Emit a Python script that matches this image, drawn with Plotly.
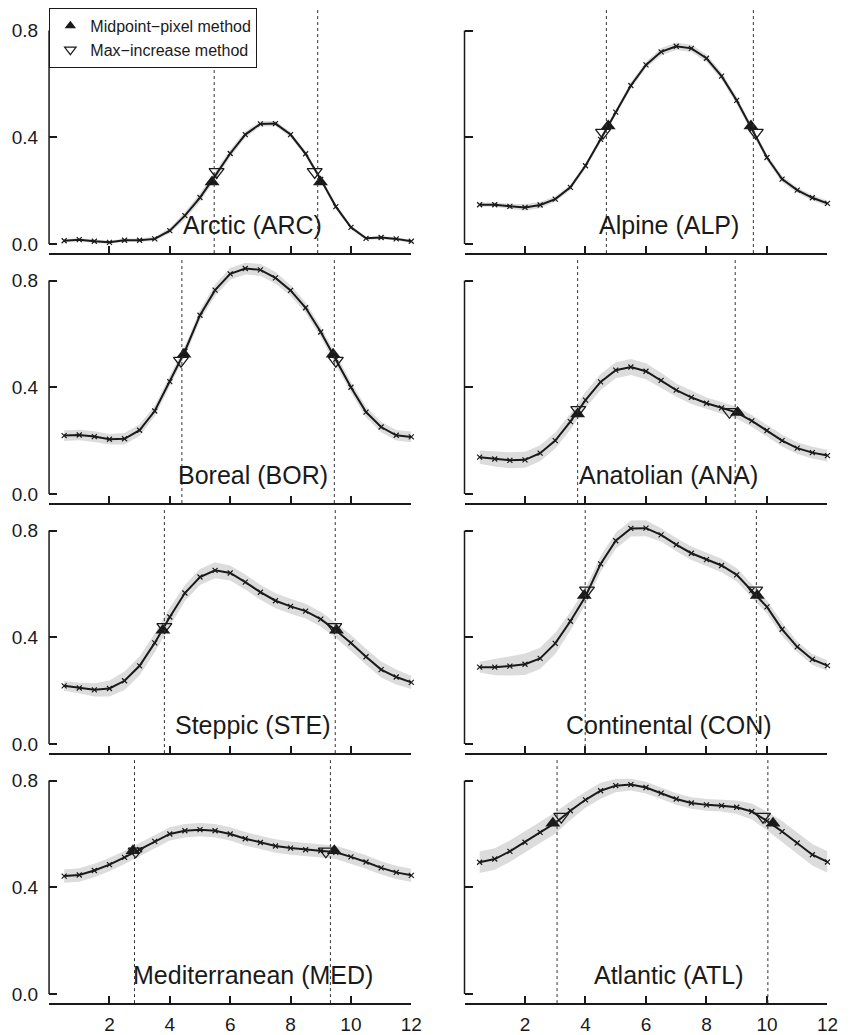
import plotly.graph_objects as go

# ---------------- data ----------------
months = [0.5, 1.0, 1.5, 2.0, 2.5, 3.0, 3.5, 4.0, 4.5, 5.0, 5.5, 6.0,
          6.5, 7.0, 7.5, 8.0, 8.5, 9.0, 9.5, 10.0, 10.5, 11.0, 11.5, 12.0]

panel_names = ["Arctic (ARC)", "Alpine (ALP)", "Boreal (BOR)", "Anatolian (ANA)",
               "Steppic (STE)", "Continental (CON)", "Mediterranean (MED)", "Atlantic (ATL)"]

arc = [0.012, 0.016, 0.010, 0.006, 0.014, 0.014, 0.019, 0.050, 0.106, 0.174, 0.255, 0.339,
       0.410, 0.450, 0.451, 0.410, 0.338, 0.242, 0.140, 0.062, 0.021, 0.024, 0.019, 0.010]
alp = [0.147, 0.147, 0.141, 0.137, 0.146, 0.168, 0.212, 0.293, 0.392, 0.494, 0.594, 0.671,
       0.720, 0.741, 0.733, 0.696, 0.629, 0.538, 0.430, 0.324, 0.243, 0.202, 0.173, 0.152]
bor = [0.219, 0.221, 0.215, 0.205, 0.207, 0.239, 0.311, 0.421, 0.535, 0.670, 0.764, 0.825,
       0.845, 0.840, 0.810, 0.763, 0.698, 0.607, 0.505, 0.400, 0.307, 0.251, 0.220, 0.214]
ana = [0.138, 0.131, 0.126, 0.128, 0.153, 0.200, 0.271, 0.352, 0.420, 0.464, 0.476, 0.460,
       0.426, 0.389, 0.362, 0.340, 0.323, 0.305, 0.274, 0.238, 0.200, 0.172, 0.155, 0.144]
ste = [0.218, 0.210, 0.203, 0.208, 0.237, 0.293, 0.379, 0.476, 0.566, 0.626, 0.651, 0.641,
       0.607, 0.569, 0.537, 0.516, 0.498, 0.468, 0.426, 0.379, 0.327, 0.279, 0.251, 0.231]
con = [0.288, 0.288, 0.292, 0.299, 0.321, 0.377, 0.460, 0.553, 0.675, 0.762, 0.808, 0.809,
       0.784, 0.747, 0.715, 0.691, 0.669, 0.634, 0.576, 0.514, 0.430, 0.364, 0.317, 0.294]
med = [0.442, 0.446, 0.463, 0.485, 0.512, 0.541, 0.572, 0.600, 0.612, 0.616, 0.612, 0.600,
       0.582, 0.568, 0.555, 0.547, 0.541, 0.537, 0.531, 0.514, 0.495, 0.473, 0.456, 0.445]
atl = [0.494, 0.506, 0.535, 0.569, 0.606, 0.641, 0.687, 0.728, 0.762, 0.781, 0.785, 0.774,
       0.753, 0.731, 0.716, 0.709, 0.706, 0.700, 0.684, 0.649, 0.609, 0.566, 0.522, 0.495]

# half-width of the grey uncertainty band
arc_sd = [0.006, 0.006, 0.006, 0.006, 0.006, 0.006, 0.008, 0.010, 0.014, 0.016, 0.016, 0.014,
          0.012, 0.010, 0.010, 0.010, 0.010, 0.010, 0.010, 0.008, 0.006, 0.006, 0.006, 0.006]
alp_sd = [0.008, 0.008, 0.010, 0.012, 0.012, 0.010, 0.010, 0.010, 0.010, 0.010, 0.012, 0.012,
          0.014, 0.014, 0.014, 0.014, 0.014, 0.014, 0.012, 0.012, 0.012, 0.010, 0.010, 0.010]
bor_sd = [0.020, 0.020, 0.020, 0.020, 0.022, 0.022, 0.020, 0.020, 0.020, 0.020, 0.022, 0.022,
          0.022, 0.022, 0.022, 0.020, 0.020, 0.020, 0.020, 0.020, 0.020, 0.020, 0.020, 0.020]
ana_sd = [0.025, 0.028, 0.030, 0.030, 0.030, 0.030, 0.030, 0.030, 0.030, 0.030, 0.030, 0.030,
          0.028, 0.025, 0.025, 0.022, 0.022, 0.022, 0.022, 0.022, 0.022, 0.022, 0.022, 0.022]
ste_sd = [0.018, 0.020, 0.025, 0.030, 0.035, 0.035, 0.035, 0.035, 0.030, 0.030, 0.030, 0.028,
          0.028, 0.028, 0.028, 0.028, 0.028, 0.028, 0.028, 0.030, 0.030, 0.030, 0.028, 0.025]
con_sd = [0.020, 0.030, 0.035, 0.040, 0.040, 0.040, 0.035, 0.030, 0.030, 0.030, 0.030, 0.030,
          0.025, 0.025, 0.025, 0.025, 0.025, 0.025, 0.025, 0.025, 0.025, 0.020, 0.020, 0.020]
med_sd = [0.025, 0.025, 0.025, 0.025, 0.025, 0.025, 0.025, 0.025, 0.025, 0.025, 0.025, 0.025,
          0.025, 0.025, 0.025, 0.025, 0.025, 0.025, 0.025, 0.025, 0.025, 0.025, 0.025, 0.025]
atl_sd = [0.040, 0.040, 0.040, 0.040, 0.040, 0.040, 0.035, 0.030, 0.030, 0.025, 0.022, 0.022,
          0.022, 0.022, 0.022, 0.022, 0.022, 0.025, 0.030, 0.035, 0.040, 0.040, 0.040, 0.040]

# Midpoint-pixel (filled triangle) and max-increase (open triangle) estimates, dotted lines
arc_mid_x, arc_mid_y = [5.40, 8.99], [0.232, 0.232]
arc_max_x, arc_max_y = [5.55, 8.80], [0.270, 0.270]
arc_dot = [5.47, 8.90]
alp_mid_x, alp_mid_y = [4.75, 9.47], [0.442, 0.442]
alp_max_x, alp_max_y = [4.58, 9.63], [0.417, 0.417]
alp_dot = [4.69, 9.55]
bor_mid_x, bor_mid_y = [4.47, 9.41], [0.524, 0.524]
bor_max_x, bor_max_y = [4.37, 9.50], [0.500, 0.500]
bor_dot = [4.40, 9.45]
ana_mid_x, ana_mid_y = [3.74, 9.03], [0.300, 0.305]
ana_max_x, ana_max_y = [3.76, 8.76], [0.315, 0.308]
ana_dot = [3.74, 8.95]
ste_mid_x, ste_mid_y = [3.77, 9.52], [0.426, 0.426]
ste_max_x, ste_max_y = [3.82, 9.45], [0.439, 0.439]
ste_dot = [3.82, 9.48]
con_mid_x, con_mid_y = [3.96, 9.68], [0.557, 0.557]
con_max_x, con_max_y = [4.05, 9.61], [0.576, 0.576]
con_dot = [3.99, 9.65]
med_mid_x, med_mid_y = [2.78, 9.45], [0.537, 0.537]
med_max_x, med_max_y = [2.87, 9.17], [0.535, 0.535]
med_dot = [2.83, 9.32]
atl_mid_x, atl_mid_y = [2.92, 10.20], [0.640, 0.640]
atl_max_x, atl_max_y = [3.20, 9.87], [0.665, 0.665]
atl_dot = [3.06, 10.03]

x_tickvals = [2, 4, 6, 8, 10, 12]
y_tickvals = [0.0, 0.4, 0.8]
y_ticktext = ["0.0", "0.4", "0.8"]

panels = [
    (arc, arc_sd, arc_mid_x, arc_mid_y, arc_max_x, arc_max_y, arc_dot),
    (alp, alp_sd, alp_mid_x, alp_mid_y, alp_max_x, alp_max_y, alp_dot),
    (bor, bor_sd, bor_mid_x, bor_mid_y, bor_max_x, bor_max_y, bor_dot),
    (ana, ana_sd, ana_mid_x, ana_mid_y, ana_max_x, ana_max_y, ana_dot),
    (ste, ste_sd, ste_mid_x, ste_mid_y, ste_max_x, ste_max_y, ste_dot),
    (con, con_sd, con_mid_x, con_mid_y, con_max_x, con_max_y, con_dot),
    (med, med_sd, med_mid_x, med_mid_y, med_max_x, med_max_y, med_dot),
    (atl, atl_sd, atl_mid_x, atl_mid_y, atl_max_x, atl_max_y, atl_dot),
]

# ---------------- layout geometry ----------------
W, H = 850, 1035


def px_x(p):
    return p / W


def px_y(p):
    return 1 - p / H


FONT = "Liberation Sans, Arial, Helvetica, sans-serif"
INK = "#1a1a1a"
col_px = [(49.7, 416.7), (470.6, 838.3)]
row_px = [(10, 254), (261, 505), (512, 756), (763, 1007)]
col_dom = [(px_x(a), px_x(b)) for a, b in col_px]
row_dom = [(px_y(b), px_y(a)) for a, b in row_px]
YR = [-0.034, 0.877]

fig = go.Figure()

# legend-only entries
fig.add_trace(go.Scatter(x=[None], y=[None], mode="markers", name="Midpoint\u2212pixel method",
                         marker=dict(symbol="triangle-up", size=10, color=INK), xaxis="x", yaxis="y"))
fig.add_trace(go.Scatter(x=[None], y=[None], mode="markers", name="Max\u2212increase method",
                         marker=dict(symbol="triangle-down-open", size=10, color=INK,
                                     line=dict(width=1.2, color=INK)), xaxis="x", yaxis="y"))

shapes = []
annotations = []
for i, (vals, sd, mx, my, xx, xy, dots) in enumerate(panels):
    k = i + 1
    row, col = i // 2, i % 2
    xa = "x" if k == 1 else f"x{k}"
    ya = "y" if k == 1 else f"y{k}"
    upper = [v + s for v, s in zip(vals, sd)]
    lower = [v - s for v, s in zip(vals, sd)]
    fig.add_trace(go.Scatter(x=months + months[::-1], y=upper + lower[::-1], fill="toself",
                             fillcolor="#dcdcdc", line=dict(width=0), mode="lines",
                             hoverinfo="skip", showlegend=False, xaxis=xa, yaxis=ya))
    fig.add_trace(go.Scatter(x=months, y=vals, mode="lines+markers", showlegend=False,
                             line=dict(color=INK, width=2),
                             marker=dict(symbol="x-thin", size=5, line=dict(width=1.2, color=INK)),
                             cliponaxis=False, xaxis=xa, yaxis=ya))
    fig.add_trace(go.Scatter(x=mx, y=my, mode="markers", showlegend=False,
                             marker=dict(symbol="triangle-up", size=13, color=INK),
                             cliponaxis=False, xaxis=xa, yaxis=ya))
    fig.add_trace(go.Scatter(x=xx, y=xy, mode="markers", showlegend=False,
                             marker=dict(symbol="triangle-down-open", size=13, color=INK,
                                         line=dict(width=1.3, color=INK)),
                             cliponaxis=False, xaxis=xa, yaxis=ya))
    for d in dots:
        shapes.append(dict(type="line", xref=xa, yref=f"{ya} domain", x0=d, x1=d, y0=0, y1=1,
                           line=dict(color="#333333", width=1, dash="dot")))
    # y axis line from 0 to 0.8 (R-style)
    shapes.append(dict(type="line", xref="paper", yref=ya, x0=col_dom[col][0], x1=col_dom[col][0],
                       y0=y_tickvals[0], y1=y_tickvals[-1], line=dict(color=INK, width=1.5)))
    annotations.append(dict(text=panel_names[i], xref=xa, yref=ya, x=6.75, y=0.072,
                            showarrow=False, xanchor="center", yanchor="middle",
                            font=dict(size=25, color=INK, family=FONT)))
    fig.layout[f"xaxis{k if k > 1 else ''}"] = dict(
        domain=list(col_dom[col]), anchor=ya, range=[0, 12], showline=True, linecolor=INK,
        linewidth=1.5, ticks="inside", ticklen=7, tickwidth=1.5, tickcolor=INK,
        tickvals=x_tickvals, showticklabels=(row == 3), showgrid=False, zeroline=False,
        tickfont=dict(size=19, color=INK, family=FONT), ticklabelstandoff=3)
    fig.layout[f"yaxis{k if k > 1 else ''}"] = dict(
        domain=list(row_dom[row]), anchor=xa, range=YR, showline=False, ticks="inside",
        ticklen=8, tickwidth=1.5, tickcolor=INK, tickvals=y_tickvals, ticktext=y_ticktext,
        showticklabels=(col == 0), showgrid=False, zeroline=False,
        tickfont=dict(size=19, color=INK, family=FONT), ticklabelstandoff=10)

fig.update_layout(
    width=W, height=H, margin=dict(l=0, r=0, t=0, b=0),
    paper_bgcolor="white", plot_bgcolor="white",
    font=dict(family=FONT, color=INK),
    shapes=shapes, annotations=annotations,
    showlegend=True,
    legend=dict(x=px_x(50), y=px_y(8), xanchor="left", yanchor="top", bgcolor="white",
                bordercolor=INK, borderwidth=1, font=dict(size=16, family=FONT, color=INK),
                itemwidth=30, tracegroupgap=0),
)

# page CSS: drop the browser's default 8px margin and scrollbars so the 850x1035 figure fills the window
page_fix = ("document.documentElement.style.margin='0';document.documentElement.style.overflow='hidden';"
            "document.body.style.margin='0';document.body.style.overflow='hidden';")
fig.write_html("out.html", config={"displayModeBar": False}, post_script=page_fix)
